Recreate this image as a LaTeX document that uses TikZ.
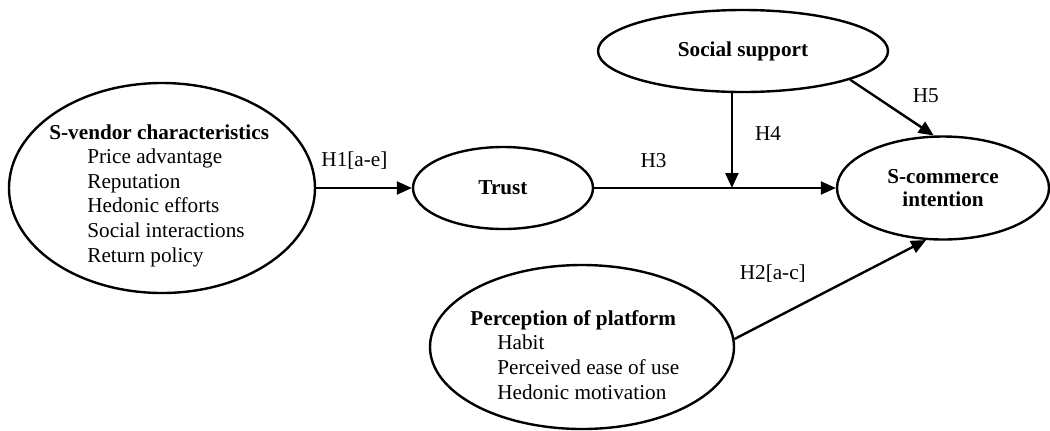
\documentclass[tikz,border=0pt]{standalone}
\usepackage{fontspec}
\setmainfont{Liberation Serif}
\usetikzlibrary{shapes.geometric,arrows.meta,positioning,calc}

\begin{document}
\begin{tikzpicture}[
    x=0.5pt, y=-0.5pt,
    font=\fontsize{10.6pt}{12.3pt}\selectfont,
    construct/.style={ellipse, draw, line width=1.2pt, inner sep=0pt},
    itemlist/.style={align=left, anchor=north west, inner sep=0pt},
    hyp/.style={inner sep=0pt},
    arrow/.style={-{Triangle[length=7.5pt, width=6.5pt]}, line width=1.2pt}
]
\useasboundingbox (0,0) rectangle (1050,430);

% Constructs
\node[construct, minimum width=153pt, minimum height=105pt] (vendor) at (162,188) {};
\node[itemlist] (vendorlist) at (49,124) {\textbf{S-vendor characteristics}\\
    \hspace*{19pt}Price advantage\\
    \hspace*{19pt}Reputation\\
    \hspace*{19pt}Hedonic efforts\\
    \hspace*{19pt}Social interactions\\
    \hspace*{19pt}Return policy};

\node[construct, minimum width=90pt, minimum height=41pt] (trust) at (503,188) {\textbf{Trust}};
\node[construct, minimum width=145pt, minimum height=41pt] (social) at (743,51) {\textbf{Social support}};
\node[construct, minimum width=106pt, minimum height=51.5pt, align=center,
      font=\fontsize{10.6pt}{11.6pt}\selectfont\bfseries] (scom) at (943,188) {S-commerce\\intention};

\node[construct, minimum width=152pt, minimum height=82pt] (percep) at (582,347) {};
\node[itemlist] (perceplist) at (470,310) {\textbf{Perception of platform}\\
    \hspace*{13.5pt}Habit\\
    \hspace*{13.5pt}Perceived ease of use\\
    \hspace*{13.5pt}Hedonic motivation};

% Moderation point on H3
\coordinate (mod) at ($(trust.east)!0.57!(scom.west)$);

% Hypotheses
\draw[arrow] (vendor.east) -- node[hyp, pos=0.4, above=8.5pt] (h1) {H1[a-e]} (trust.west);
\draw[arrow] (trust.east) -- node[hyp, pos=0.246, above=9.5pt] (h3) {H3} (scom.west);
\draw[arrow] (social.south -| mod) -- node[hyp, pos=0.42, right=11pt] (h4) {H4} (mod);
\draw[arrow] (social.-15) -- node[hyp, pos=0.4, right=14pt, yshift=3pt] (h5) {H5} (scom.100);
\draw[arrow] (percep.3) -- node[hyp, pos=0.2, above=18pt] (h2) {H2[a-c]} (scom.252);

\end{tikzpicture}
\end{document}
